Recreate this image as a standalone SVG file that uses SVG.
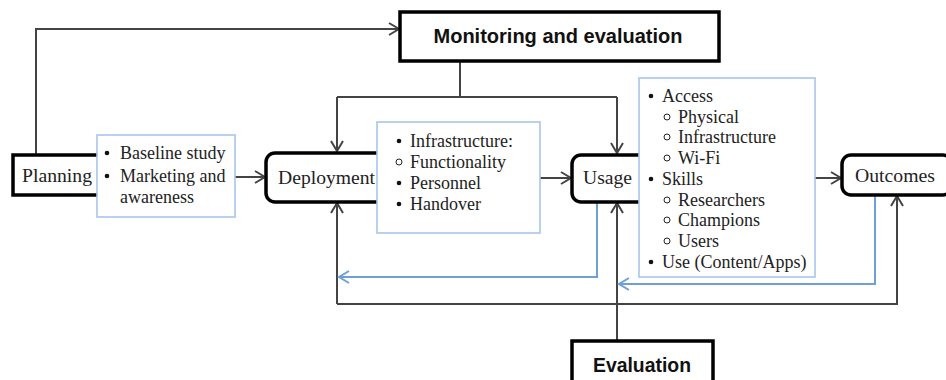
<svg xmlns="http://www.w3.org/2000/svg" width="946" height="380" viewBox="0 0 946 380">
<style>
.node{fill:#fff;stroke:#000;stroke-width:3.5}
.list{fill:#fff;stroke:#a8c6ea;stroke-width:1.6}
.lbl{font-family:"Liberation Serif","Times New Roman",serif;font-size:19.5px;fill:#222}
.hd{font-family:"Liberation Sans",Arial,sans-serif;font-size:19.5px;font-weight:bold;fill:#111}
.li{font-family:"Liberation Serif","Times New Roman",serif;font-size:18px;fill:#222}
.dot{fill:#111}
.ring{fill:none;stroke:#222;stroke-width:1}
.con{fill:none;stroke:#444;stroke-width:2}
.bcon{fill:none;stroke:#6f9fd6;stroke-width:2}
</style>
<defs>
<marker id="ah" markerUnits="userSpaceOnUse" markerWidth="14" markerHeight="14" viewBox="0 0 14 14" refX="12" refY="7" orient="auto">
<path d="M2,1 L12,7 L2,13" fill="none" stroke="#444" stroke-width="2"/>
</marker>
<marker id="bh" markerUnits="userSpaceOnUse" markerWidth="14" markerHeight="14" viewBox="0 0 14 14" refX="12" refY="7" orient="auto">
<path d="M2,1 L12,7 L2,13" fill="none" stroke="#6f9fd6" stroke-width="2"/>
</marker>
</defs>
<rect width="946" height="380" fill="#fff"/>
<g id="connectors">
<path class="con" d="M36,155 V29 H399" marker-end="url(#ah)"/>
<path class="con" d="M460,61 V97"/>
<path class="con" d="M337,97 H617"/>
<path class="con" d="M337,97 V151" marker-end="url(#ah)"/>
<path class="con" d="M617,97 V153" marker-end="url(#ah)"/>
<path class="con" d="M235,177 H265" marker-end="url(#ah)"/>
<path class="con" d="M540,178 H571" marker-end="url(#ah)"/>
<path class="con" d="M815,178 H841" marker-end="url(#ah)"/>
<path class="con" d="M617,341 V203" marker-end="url(#ah)"/>
<path class="con" d="M337,304 V203" marker-end="url(#ah)"/>
<path class="con" d="M337,304 H897 V196" marker-end="url(#ah)"/>
<path class="bcon" d="M597,202 V277 H339" marker-end="url(#bh)"/>
<path class="bcon" d="M875,196 V284 H619" marker-end="url(#bh)"/>
</g>
<g id="monitoring">
<rect class="node" x="400" y="12" width="319" height="49"/>
<text class="hd" x="558" y="43" text-anchor="middle" textLength="249" lengthAdjust="spacingAndGlyphs">Monitoring and evaluation</text>
</g>
<g id="planning">
<rect class="node" x="13" y="155" width="100" height="40"/>
<text class="lbl" x="22" y="182" textLength="70" lengthAdjust="spacingAndGlyphs">Planning</text>
</g>
<g id="planning-list">
<rect class="list" x="97" y="135" width="138" height="82"/>
<circle class="dot" cx="107" cy="153" r="2.3"/>
<text class="li" x="120" y="159">Baseline study</text>
<circle class="dot" cx="107" cy="176" r="2.3"/>
<text class="li" x="120" y="182">Marketing and</text>
<text class="li" x="120" y="203">awareness</text>
</g>
<g id="deployment">
<rect class="node" x="266" y="153" width="121" height="49" rx="9"/>
<text class="lbl" x="326.5" y="184" text-anchor="middle" textLength="97" lengthAdjust="spacingAndGlyphs">Deployment</text>
</g>
<g id="deployment-list">
<rect class="list" x="377" y="122" width="163" height="111"/>
<circle class="dot" cx="399" cy="141" r="2.3"/>
<text class="li" x="410" y="147">Infrastructure:</text>
<circle class="ring" cx="399" cy="162" r="3"/>
<text class="li" x="410" y="168">Functionality</text>
<circle class="dot" cx="399" cy="183" r="2.3"/>
<text class="li" x="410" y="189">Personnel</text>
<circle class="dot" cx="399" cy="204" r="2.3"/>
<text class="li" x="410" y="210">Handover</text>
</g>
<g id="usage">
<rect class="node" x="572" y="155" width="80" height="47" rx="9"/>
<text class="lbl" x="583" y="184" textLength="49" lengthAdjust="spacingAndGlyphs">Usage</text>
</g>
<g id="usage-list">
<rect class="list" x="639" y="78" width="176" height="199"/>
<circle class="dot" cx="651" cy="96" r="2.3"/>
<text class="li" x="662" y="102">Access</text>
<circle class="ring" cx="667" cy="117" r="3"/>
<text class="li" x="678" y="123">Physical</text>
<circle class="ring" cx="667" cy="137" r="3"/>
<text class="li" x="678" y="143">Infrastructure</text>
<circle class="ring" cx="667" cy="158" r="3"/>
<text class="li" x="678" y="164">Wi-Fi</text>
<circle class="dot" cx="651" cy="179" r="2.3"/>
<text class="li" x="662" y="185">Skills</text>
<circle class="ring" cx="667" cy="200" r="3"/>
<text class="li" x="678" y="206">Researchers</text>
<circle class="ring" cx="667" cy="220" r="3"/>
<text class="li" x="678" y="226">Champions</text>
<circle class="ring" cx="667" cy="241" r="3"/>
<text class="li" x="678" y="247">Users</text>
<circle class="dot" cx="651" cy="262" r="2.3"/>
<text class="li" x="662" y="268">Use (Content/Apps)</text>
</g>
<g id="outcomes">
<rect class="node" x="842" y="155" width="110" height="40" rx="9"/>
<text class="lbl" x="855" y="182" textLength="80" lengthAdjust="spacingAndGlyphs">Outcomes</text>
</g>
<g id="evaluation">
<rect class="node" x="572" y="341" width="141" height="45"/>
<text class="hd" x="642" y="372" text-anchor="middle" textLength="98" lengthAdjust="spacingAndGlyphs">Evaluation</text>
</g>
</svg>
